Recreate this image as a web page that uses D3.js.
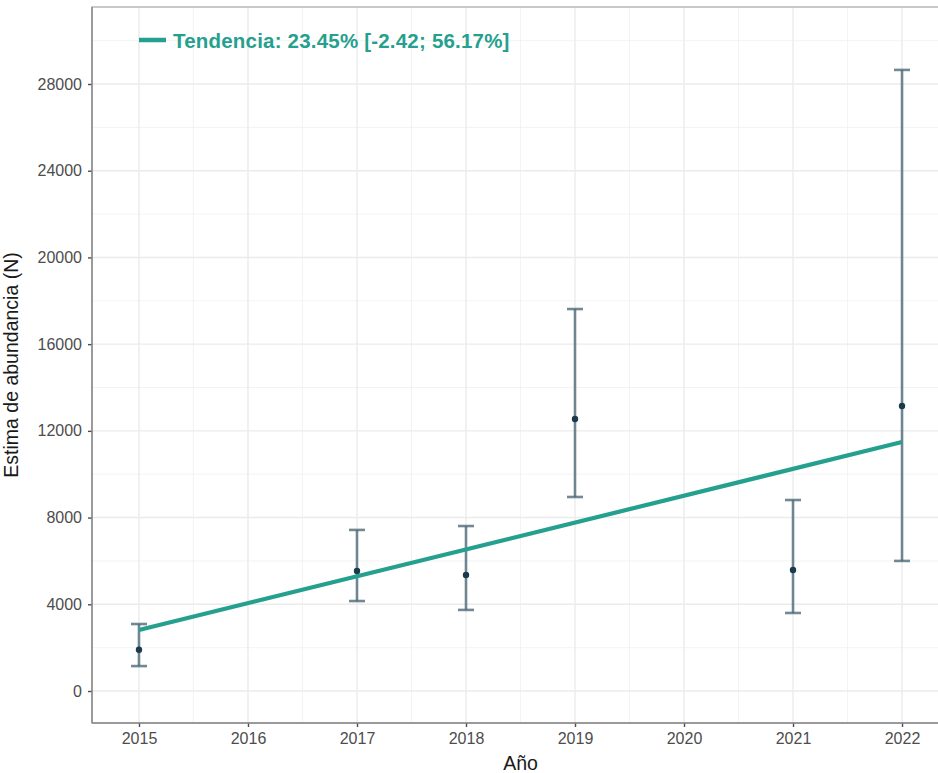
<!DOCTYPE html>
<html>
<head>
<meta charset="utf-8">
<script src="https://cdn.jsdelivr.net/npm/d3@7"></script>
<style>
  body { margin: 0; background: #fff; }
  svg { display: block; }
</style>
</head>
<body>
<div id="chart"></div>
<script>
// data
const years = [2015, 2017, 2018, 2019, 2021, 2022];
const estimate = [1900, 5540, 5350, 12550, 5580, 13150];
const lower = [1150, 4150, 3740, 8950, 3600, 6000];
const upper = [3090, 7430, 7610, 17620, 8810, 28650];
const trendYears = [2015, 2022];
const trendValues = [2814, 11486];
const xTicks = [2015, 2016, 2017, 2018, 2019, 2020, 2021, 2022];
const yTicks = [0, 4000, 8000, 12000, 16000, 20000, 24000, 28000];
const legendLabel = "Tendencia: 23.45% [-2.42; 56.17%]";

const width = 938, height = 773;
const panel = { left: 92, top: 7, right: 949, bottom: 723 };
const font = "'Liberation Sans', Arial, sans-serif";

const svg = d3.select("#chart").append("svg")
    .attr("width", width)
    .attr("height", height);

const x = d3.scaleLinear()
    .domain([2014.569, 2022.431])
    .range([panel.left, panel.right]);

const y = d3.scaleLinear()
    .domain([-1476, 31552])
    .range([panel.bottom, panel.top]);

// background
svg.append("rect")
    .attr("width", width)
    .attr("height", height)
    .attr("fill", "#ffffff");

const grid = svg.append("g");

// minor gridlines
const xMinor = d3.range(xTicks.length - 1).map(i => (xTicks[i] + xTicks[i + 1]) / 2);
const yMinor = d3.range(yTicks.length).map(i => yTicks[i] + 2000);

grid.selectAll(".xminor").data(xMinor).join("line")
    .attr("x1", d => x(d)).attr("x2", d => x(d))
    .attr("y1", panel.top).attr("y2", panel.bottom)
    .attr("stroke", "#f0f0f0")
    .attr("stroke-width", 0.8);

grid.selectAll(".yminor").data(yMinor).join("line")
    .attr("x1", panel.left).attr("x2", panel.right)
    .attr("y1", d => y(d)).attr("y2", d => y(d))
    .attr("stroke", "#f0f0f0")
    .attr("stroke-width", 0.8);

// major gridlines
grid.selectAll(".xmajor").data(xTicks).join("line")
    .attr("x1", d => x(d)).attr("x2", d => x(d))
    .attr("y1", panel.top).attr("y2", panel.bottom)
    .attr("stroke", "#ebebeb")
    .attr("stroke-width", 1.4);

grid.selectAll(".ymajor").data(yTicks).join("line")
    .attr("x1", panel.left).attr("x2", panel.right)
    .attr("y1", d => y(d)).attr("y2", d => y(d))
    .attr("stroke", "#ebebeb")
    .attr("stroke-width", 1.4);

// panel border
svg.append("rect")
    .attr("x", panel.left)
    .attr("y", panel.top)
    .attr("width", panel.right - panel.left)
    .attr("height", panel.bottom - panel.top)
    .attr("fill", "none")
    .attr("stroke", "#b8b8b8")
    .attr("stroke-width", 1.5);

// error bars
const bars = svg.append("g");
years.forEach((yr, i) => {
    const cx = x(yr);
    bars.append("line")
        .attr("x1", cx).attr("x2", cx)
        .attr("y1", y(lower[i])).attr("y2", y(upper[i]))
        .attr("stroke", "#4f6b78")
        .attr("stroke-opacity", 0.8)
        .attr("stroke-width", 2.6);
    [lower[i], upper[i]].forEach(v => {
        bars.append("line")
            .attr("x1", cx - 8).attr("x2", cx + 8)
            .attr("y1", y(v)).attr("y2", y(v))
            .attr("stroke", "#4f6b78")
            .attr("stroke-opacity", 0.8)
            .attr("stroke-width", 2.6);
    });
});

// trend line
svg.append("line")
    .attr("x1", x(trendYears[0]))
    .attr("y1", y(trendValues[0]))
    .attr("x2", x(trendYears[1]))
    .attr("y2", y(trendValues[1]))
    .attr("stroke", "#26a08e")
    .attr("stroke-width", 4.2);

// points
svg.selectAll(".pt").data(years).join("circle")
    .attr("cx", d => x(d))
    .attr("cy", (d, i) => y(estimate[i]))
    .attr("r", 3.2)
    .attr("fill", "#1b3a4b");

// axes
const xAxis = svg.append("g")
    .attr("transform", `translate(0,${panel.bottom})`)
    .call(d3.axisBottom(x).tickValues(xTicks).tickFormat(d3.format("d")).tickSize(4).tickPadding(6));

const yAxis = svg.append("g")
    .attr("transform", `translate(${panel.left},0)`)
    .call(d3.axisLeft(y).tickValues(yTicks).tickFormat(d3.format("d")).tickSize(4).tickPadding(6));

[xAxis, yAxis].forEach(a => {
    a.select(".domain").remove();
    a.selectAll(".tick line").attr("stroke", "#4d4d4d").attr("stroke-width", 1.4);
    a.selectAll(".tick text")
        .attr("fill", "#4d4d4d")
        .attr("font-family", font)
        .attr("font-size", "16px");
});

// darker axis lines
svg.append("line")
    .attr("x1", panel.left).attr("x2", panel.right)
    .attr("y1", panel.bottom).attr("y2", panel.bottom)
    .attr("stroke", "#8a8a8a").attr("stroke-width", 1.5);
svg.append("line")
    .attr("x1", panel.left).attr("x2", panel.left)
    .attr("y1", panel.top).attr("y2", panel.bottom)
    .attr("stroke", "#8a8a8a").attr("stroke-width", 1.5);

// axis titles
svg.append("text")
    .attr("x", (panel.left + panel.right) / 2)
    .attr("y", 770)
    .attr("text-anchor", "middle")
    .attr("font-family", font)
    .attr("font-size", "19.5px")
    .attr("fill", "#1a1a1a")
    .text("Año");

svg.append("text")
    .attr("transform", `translate(18,${(panel.top + panel.bottom) / 2}) rotate(-90)`)
    .attr("text-anchor", "middle")
    .attr("font-family", font)
    .attr("font-size", "19.5px")
    .attr("fill", "#1a1a1a")
    .text("Estima de abundancia (N)");

// legend
svg.append("line")
    .attr("x1", 139).attr("x2", 166)
    .attr("y1", 40).attr("y2", 40)
    .attr("stroke", "#26a08e")
    .attr("stroke-width", 4.5);

svg.append("text")
    .attr("x", 173)
    .attr("y", 48)
    .attr("font-family", font)
    .attr("font-size", "20.5px")
    .attr("font-weight", "bold")
    .attr("letter-spacing", "0.2px")
    .attr("fill", "#26a08e")
    .text(legendLabel);
</script>
</body>
</html>
